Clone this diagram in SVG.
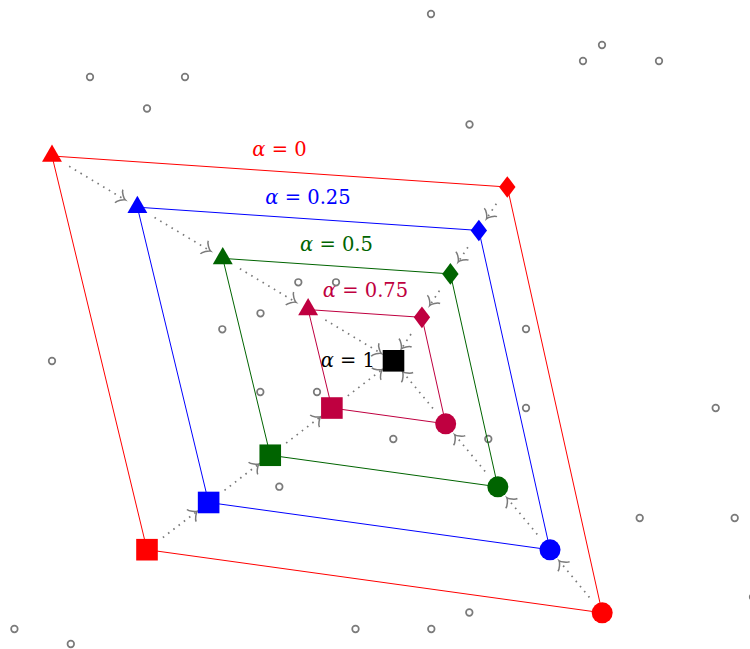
<svg xmlns="http://www.w3.org/2000/svg" xmlns:xlink="http://www.w3.org/1999/xlink" width="750" height="649" viewBox="0 0 750 649">
<style>
.pt{fill:#fff;stroke:#7a7a7a;stroke-width:1.7}
.edge{fill:none;stroke-width:1}
.arr{fill:none;stroke:#7a7a7a;stroke-width:1.7;stroke-dasharray:1.6 5;marker-end:url(#to)}
.lbl{font-family:"DejaVu Serif","Liberation Serif",serif;font-size:19.5px;text-anchor:middle}
.it{font-style:italic}
</style>
<defs>
<marker id="to" markerUnits="userSpaceOnUse" viewBox="-9 -9 11 18" markerWidth="11" markerHeight="18" refX="0" refY="0" orient="auto" overflow="visible">
<path d="M-7,7.6 C-6.6,4.8 -1.6,0.5 0.3,0 C-1.6,-0.5 -6.6,-4.8 -7,-7.6" fill="none" stroke="#7a7a7a" stroke-width="1.5"/>
</marker>
<polygon id="tri" points="0,-11.5 -9.96,5.75 9.96,5.75"/>
<polygon id="dia" points="0,-10.8 8.2,0 0,10.8 -8.2,0"/>
<rect id="sq" x="-10.8" y="-10.8" width="21.6" height="21.6"/>
<circle id="cir" r="10.5"/>
</defs>
<rect width="750" height="649" fill="#fff"/>
<g id="points">
<circle class="pt" cx="431" cy="14" r="3.3"/>
<circle class="pt" cx="602" cy="45" r="3.3"/>
<circle class="pt" cx="583" cy="61" r="3.3"/>
<circle class="pt" cx="659" cy="61" r="3.3"/>
<circle class="pt" cx="90" cy="77" r="3.3"/>
<circle class="pt" cx="185" cy="77" r="3.3"/>
<circle class="pt" cx="147" cy="108.5" r="3.3"/>
<circle class="pt" cx="469.5" cy="124.5" r="3.3"/>
<circle class="pt" cx="52" cy="361" r="3.3"/>
<circle class="pt" cx="298.3" cy="282.3" r="3.3"/>
<circle class="pt" cx="336" cy="282.3" r="3.3"/>
<circle class="pt" cx="260.5" cy="313.3" r="3.3"/>
<circle class="pt" cx="222.3" cy="329.3" r="3.3"/>
<circle class="pt" cx="526" cy="329" r="3.3"/>
<circle class="pt" cx="260.3" cy="392" r="3.3"/>
<circle class="pt" cx="317" cy="392" r="3.3"/>
<circle class="pt" cx="715.7" cy="408" r="3.3"/>
<circle class="pt" cx="526" cy="408" r="3.3"/>
<circle class="pt" cx="393.3" cy="439" r="3.3"/>
<circle class="pt" cx="488.3" cy="439" r="3.3"/>
<circle class="pt" cx="279.3" cy="486.7" r="3.3"/>
<circle class="pt" cx="639.7" cy="518" r="3.3"/>
<circle class="pt" cx="734.7" cy="518" r="3.3"/>
<circle class="pt" cx="469.3" cy="612.5" r="3.3"/>
<circle class="pt" cx="14.4" cy="629" r="3.3"/>
<circle class="pt" cx="355.5" cy="629" r="3.3"/>
<circle class="pt" cx="431.3" cy="629" r="3.3"/>
<circle class="pt" cx="70.8" cy="644" r="3.3"/>
<circle class="pt" cx="753" cy="597" r="3.3"/>
</g>
<g id="connectors">
<polygon class="edge" stroke="#ff0000" points="52,156 507.3,187 602.2,612.8 147,549.7"/>
<polygon class="edge" stroke="#0000ff" points="137.375,207.2 478.85,230.45 550.025,549.8 208.625,502.475"/>
<polygon class="edge" stroke="#006400" points="222.75,258.4 450.4,273.9 497.85,486.8 270.25,455.25"/>
<polygon class="edge" stroke="#bf0040" points="308.125,309.6 421.95,317.35 445.675,423.8 331.875,408.025"/>
<line class="arr" x1="69.15" y1="166.29" x2="124.94" y2="199.74"/>
<line class="arr" x1="154.53" y1="217.49" x2="210.31" y2="250.94"/>
<line class="arr" x1="239.9" y1="268.69" x2="295.69" y2="302.14"/>
<line class="arr" x1="325.28" y1="319.89" x2="381.06" y2="353.34"/>
<line class="arr" x1="496.34" y1="203.73" x2="486.79" y2="218.32"/>
<line class="arr" x1="467.89" y1="247.18" x2="458.34" y2="261.77"/>
<line class="arr" x1="439.44" y1="290.63" x2="429.89" y2="305.22"/>
<line class="arr" x1="410.99" y1="334.08" x2="401.44" y2="348.67"/>
<line class="arr" x1="589.44" y1="597.4" x2="559.28" y2="560.97"/>
<line class="arr" x1="537.27" y1="534.4" x2="507.1" y2="497.97"/>
<line class="arr" x1="485.09" y1="471.4" x2="454.93" y2="434.97"/>
<line class="arr" x1="432.92" y1="408.4" x2="402.75" y2="371.97"/>
<line class="arr" x1="162.87" y1="537.53" x2="197.12" y2="511.3"/>
<line class="arr" x1="224.5" y1="490.31" x2="258.74" y2="464.07"/>
<line class="arr" x1="286.12" y1="443.08" x2="320.37" y2="416.85"/>
<line class="arr" x1="347.75" y1="395.86" x2="381.99" y2="369.62"/>
</g>
<g id="alpha0" fill="#ff0000">
<use xlink:href="#tri" x="52" y="156"/>
<use xlink:href="#dia" x="507.3" y="187"/>
<use xlink:href="#cir" x="602.2" y="612.8"/>
<use xlink:href="#sq" x="147" y="549.7"/>
<text class="lbl" x="279.5" y="156"><tspan class="it">α</tspan> = 0</text>
</g>
<g id="alpha025" fill="#0000ff">
<use xlink:href="#tri" x="137.375" y="207.2"/>
<use xlink:href="#dia" x="478.85" y="230.45"/>
<use xlink:href="#cir" x="550.025" y="549.8"/>
<use xlink:href="#sq" x="208.625" y="502.475"/>
<text class="lbl" x="308" y="204"><tspan class="it">α</tspan> = 0.25</text>
</g>
<g id="alpha05" fill="#006400">
<use xlink:href="#tri" x="222.75" y="258.4"/>
<use xlink:href="#dia" x="450.4" y="273.9"/>
<use xlink:href="#cir" x="497.85" y="486.8"/>
<use xlink:href="#sq" x="270.25" y="455.25"/>
<text class="lbl" x="336.5" y="250.5"><tspan class="it">α</tspan> = 0.5</text>
</g>
<g id="alpha075" fill="#bf0040">
<use xlink:href="#tri" x="308.125" y="309.6"/>
<use xlink:href="#dia" x="421.95" y="317.35"/>
<use xlink:href="#cir" x="445.675" y="423.8"/>
<use xlink:href="#sq" x="331.875" y="408.025"/>
<text class="lbl" x="365.5" y="297"><tspan class="it">α</tspan> = 0.75</text>
</g>
<g id="alpha1" fill="#000000">
<use xlink:href="#sq" x="393.5" y="360.8"/>
<text class="lbl" x="375" y="367.3" style="text-anchor:end"><tspan class="it">α</tspan> = 1</text>
</g>
</svg>
